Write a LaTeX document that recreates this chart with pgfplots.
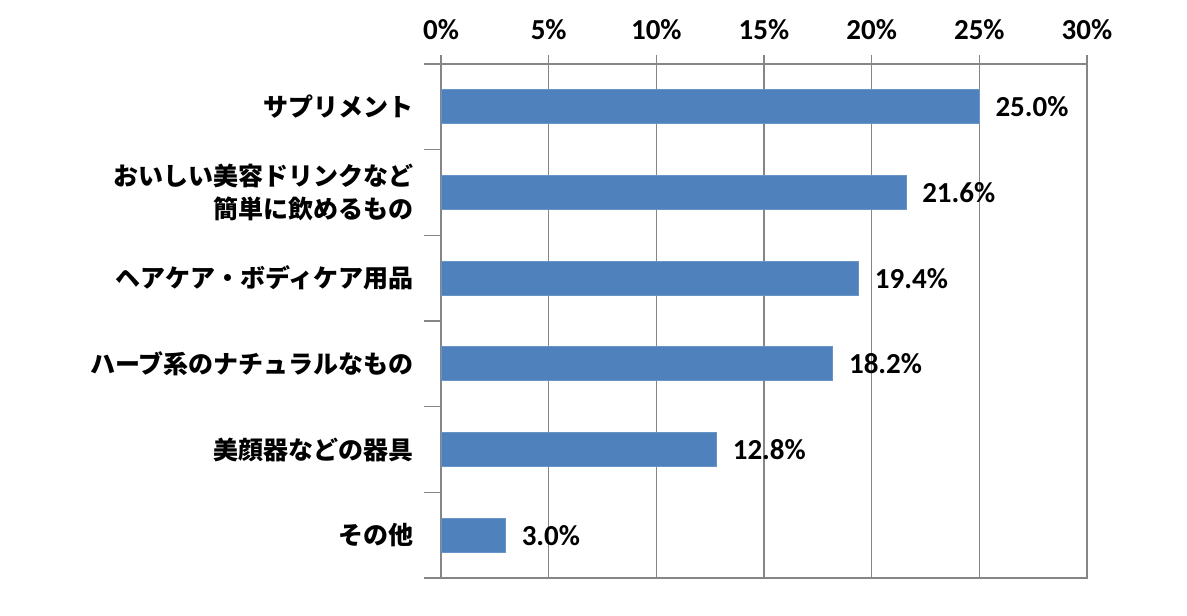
\documentclass[border=0pt]{standalone}
\usepackage{pgfplots}
\pgfplotsset{compat=1.18}
\usepackage{fontspec}
\setmainfont{Carlito}
\newfontfamily\jp{Noto Sans CJK JP}
\definecolor{barblue}{HTML}{4F81BD}
\definecolor{gridgray}{HTML}{868686}
\begin{document}
\begin{tikzpicture}
\useasboundingbox (0,0) rectangle (593.5pt,307.5pt);
\begin{axis}[
  at={(220.5pt,18.5pt)}, anchor=south west,
  width=323pt, height=257pt, scale only axis,
  xbar, bar width=17pt,
  xmin=0, xmax=30, ymin=-0.5, ymax=5.5, y dir=reverse,
  xtick={0,5,...,30},
  minor xtick={0,5,...,30},
  xticklabel={\pgfmathprintnumber{\tick}\%},
  xtick pos=upper, xticklabel pos=upper,
  /pgf/number format/assume math mode=true,
  x axis line style={draw=none},
  y axis line style={draw=gridgray, line width=0.6pt},
  tick align=outside,
  major tick length=8.5pt, minor tick length=4.5pt,
  xmajorgrids, grid style={draw=gridgray, line width=0.6pt},
  major x tick style={draw=none},
  minor x tick style={draw=gridgray, line width=0.6pt},
  xticklabel style={font=\fontsize{14.5}{16}\selectfont\bfseries, yshift=0pt},
  ytick={-0.5,0.5,...,5.5}, yticklabels={},
  ytick pos=left,
  y tick style={draw=gridgray, line width=0.6pt},
  extra y ticks={0,1,2,3,4,5},
  extra y tick labels={サプリメント,{おいしい美容ドリンクなど\\簡単に飲めるもの},ヘアケア・ボディケア用品,ハーブ系のナチュラルなもの,美顔器などの器具,その他},
  extra y tick style={major tick length=0pt, ymajorgrids=false,
    tick style={draw=none},
    yticklabel style={font=\jp\bfseries\fontsize{12.5}{16.5}\selectfont, align=right, xshift=-10pt}},
  point meta=x,
  nodes near coords={\pgfmathprintnumber[fixed,fixed zerofill,precision=1]{\pgfplotspointmeta}\%},
  nodes near coords style={font=\fontsize{14.5}{16}\selectfont\bfseries, anchor=west, xshift=4.5pt,
    /pgf/number format/assume math mode=true},
]
\addplot[fill=barblue, draw=barblue!85!white, line width=0.5pt]
  coordinates {(25.0,0) (21.6,1) (19.4,2) (18.2,3) (12.8,4) (3.0,5)};
\end{axis}
\end{tikzpicture}
\end{document}
